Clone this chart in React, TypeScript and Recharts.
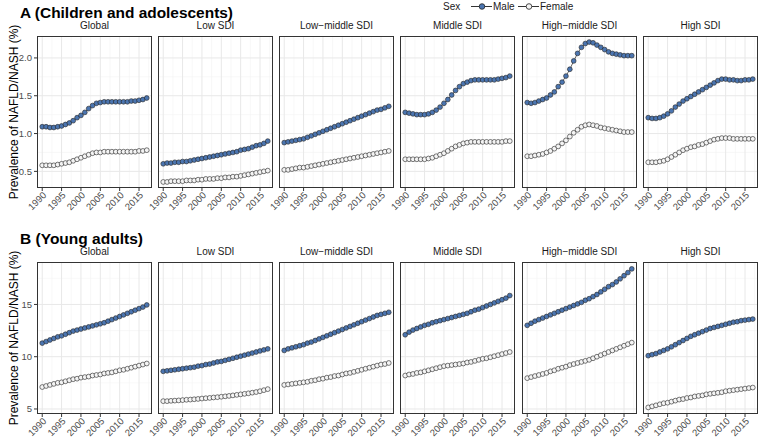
import { LineChart, Line, XAxis, YAxis, ReferenceLine } from 'recharts'

const YEARS = [
  1990, 1991, 1992, 1993, 1994, 1995, 1996, 1997, 1998, 1999, 2000, 2001, 2002, 2003,
  2004, 2005, 2006, 2007, 2008, 2009, 2010, 2011, 2012, 2013, 2014, 2015, 2016, 2017,
]
const REGIONS = ['Global', 'Low SDI', 'Low\u2212middle SDI', 'Middle SDI', 'High\u2212middle SDI', 'High SDI']

const X_TICKS = [1990, 1995, 2000, 2005, 2010, 2015]
const X_MINOR = [1992.5, 1997.5, 2002.5, 2007.5, 2012.5, 2017.5]
const A_TICKS = [0.5, 1.0, 1.5, 2.0]
const A_MINOR = [0.75, 1.25, 1.75, 2.25]
const B_TICKS = [5, 10, 15]
const B_MINOR = [7.5, 12.5, 17.5]

// A: children and adolescents
const aGlobalMale = [1.09, 1.09, 1.08, 1.08, 1.09, 1.1, 1.12, 1.14, 1.17, 1.21, 1.24, 1.28, 1.33, 1.37, 1.4, 1.41, 1.42, 1.42, 1.42, 1.42, 1.42, 1.42, 1.42, 1.43, 1.43, 1.44, 1.45, 1.47]
const aGlobalFemale = [0.58, 0.58, 0.58, 0.58, 0.59, 0.6, 0.61, 0.62, 0.64, 0.66, 0.68, 0.7, 0.72, 0.74, 0.75, 0.75, 0.76, 0.76, 0.76, 0.76, 0.76, 0.76, 0.76, 0.76, 0.76, 0.77, 0.77, 0.78]
const aLowMale = [0.6, 0.61, 0.61, 0.62, 0.62, 0.63, 0.63, 0.64, 0.65, 0.66, 0.67, 0.68, 0.69, 0.7, 0.71, 0.72, 0.73, 0.74, 0.75, 0.76, 0.78, 0.79, 0.8, 0.82, 0.84, 0.85, 0.87, 0.9]
const aLowFemale = [0.36, 0.36, 0.37, 0.37, 0.37, 0.37, 0.38, 0.38, 0.38, 0.39, 0.39, 0.4, 0.4, 0.4, 0.41, 0.41, 0.42, 0.42, 0.43, 0.43, 0.44, 0.45, 0.46, 0.47, 0.48, 0.49, 0.5, 0.51]
const aLowMidMale = [0.88, 0.89, 0.9, 0.91, 0.92, 0.93, 0.95, 0.97, 0.99, 1.01, 1.03, 1.05, 1.07, 1.09, 1.11, 1.13, 1.15, 1.17, 1.19, 1.21, 1.23, 1.25, 1.27, 1.29, 1.31, 1.32, 1.34, 1.36]
const aLowMidFemale = [0.52, 0.52, 0.53, 0.54, 0.55, 0.55, 0.56, 0.57, 0.58, 0.59, 0.6, 0.61, 0.62, 0.63, 0.64, 0.65, 0.66, 0.67, 0.68, 0.69, 0.7, 0.71, 0.72, 0.73, 0.74, 0.75, 0.76, 0.77]
const aMidMale = [1.28, 1.27, 1.26, 1.25, 1.25, 1.25, 1.26, 1.28, 1.31, 1.35, 1.4, 1.45, 1.51, 1.57, 1.62, 1.66, 1.68, 1.7, 1.71, 1.71, 1.71, 1.71, 1.71, 1.71, 1.72, 1.73, 1.74, 1.76]
const aMidFemale = [0.66, 0.66, 0.66, 0.66, 0.66, 0.66, 0.67, 0.68, 0.7, 0.72, 0.74, 0.77, 0.8, 0.83, 0.85, 0.87, 0.88, 0.89, 0.89, 0.89, 0.89, 0.89, 0.89, 0.89, 0.89, 0.89, 0.9, 0.9]
const aHighMidMale = [1.41, 1.4, 1.41, 1.43, 1.45, 1.47, 1.51, 1.55, 1.62, 1.68, 1.76, 1.85, 1.96, 2.06, 2.14, 2.19, 2.21, 2.2, 2.17, 2.14, 2.11, 2.08, 2.06, 2.05, 2.04, 2.03, 2.03, 2.03]
const aHighMidFemale = [0.7, 0.7, 0.71, 0.72, 0.73, 0.75, 0.77, 0.8, 0.83, 0.87, 0.91, 0.96, 1.01, 1.05, 1.09, 1.11, 1.12, 1.11, 1.1, 1.08, 1.07, 1.06, 1.05, 1.04, 1.03, 1.02, 1.02, 1.02]
const aHighMale = [1.21, 1.2, 1.2, 1.21, 1.23, 1.26, 1.3, 1.35, 1.39, 1.43, 1.46, 1.49, 1.52, 1.55, 1.58, 1.61, 1.64, 1.67, 1.7, 1.72, 1.72, 1.71, 1.71, 1.7, 1.7, 1.71, 1.71, 1.72]
const aHighFemale = [0.62, 0.62, 0.62, 0.63, 0.64, 0.66, 0.69, 0.72, 0.75, 0.78, 0.8, 0.82, 0.83, 0.85, 0.86, 0.88, 0.9, 0.92, 0.93, 0.94, 0.94, 0.94, 0.93, 0.93, 0.93, 0.93, 0.93, 0.93]

// B: young adults
const bGlobalMale = [11.3, 11.45, 11.6, 11.75, 11.9, 12.0, 12.15, 12.3, 12.45, 12.55, 12.65, 12.75, 12.85, 12.95, 13.05, 13.15, 13.25, 13.4, 13.55, 13.7, 13.85, 14.0, 14.15, 14.3, 14.45, 14.6, 14.75, 14.95]
const bGlobalFemale = [7.1, 7.2, 7.3, 7.4, 7.5, 7.55, 7.65, 7.75, 7.85, 7.9, 8.0, 8.05, 8.1, 8.2, 8.25, 8.3, 8.4, 8.45, 8.5, 8.6, 8.7, 8.75, 8.85, 8.95, 9.05, 9.15, 9.25, 9.35]
const bLowMale = [8.6, 8.65, 8.7, 8.75, 8.8, 8.85, 8.9, 8.95, 9.0, 9.1, 9.15, 9.25, 9.3, 9.4, 9.5, 9.55, 9.65, 9.75, 9.85, 9.95, 10.05, 10.15, 10.25, 10.35, 10.45, 10.55, 10.65, 10.75]
const bLowFemale = [5.75, 5.75, 5.78, 5.8, 5.82, 5.85, 5.88, 5.9, 5.93, 5.96, 6.0, 6.03, 6.06, 6.1, 6.13, 6.17, 6.21, 6.25, 6.3, 6.35, 6.4, 6.45, 6.5, 6.56, 6.62, 6.7, 6.8, 6.9]
const bLowMidMale = [10.6, 10.75, 10.85, 10.95, 11.05, 11.15, 11.3, 11.4, 11.55, 11.7, 11.85, 12.0, 12.15, 12.3, 12.45, 12.6, 12.75, 12.9, 13.05, 13.2, 13.35, 13.5, 13.65, 13.8, 13.95, 14.05, 14.15, 14.25]
const bLowMidFemale = [7.3, 7.35, 7.4, 7.45, 7.5, 7.55, 7.6, 7.7, 7.75, 7.85, 7.9, 8.0, 8.05, 8.15, 8.2, 8.3, 8.4, 8.45, 8.55, 8.65, 8.75, 8.85, 8.95, 9.05, 9.15, 9.25, 9.3, 9.4]
const bMidMale = [12.1, 12.35, 12.55, 12.7, 12.85, 13.0, 13.1, 13.25, 13.35, 13.45, 13.55, 13.65, 13.75, 13.85, 13.95, 14.05, 14.15, 14.3, 14.45, 14.55, 14.7, 14.85, 15.0, 15.15, 15.3, 15.45, 15.6, 15.85]
const bMidFemale = [8.2, 8.3, 8.35, 8.45, 8.5, 8.6, 8.7, 8.8, 8.9, 9.0, 9.1, 9.15, 9.2, 9.25, 9.3, 9.35, 9.45, 9.5, 9.6, 9.7, 9.8, 9.85, 9.95, 10.05, 10.15, 10.25, 10.35, 10.45]
const bHighMidMale = [13.0, 13.2, 13.4, 13.55, 13.7, 13.85, 14.0, 14.15, 14.3, 14.45, 14.6, 14.75, 14.9, 15.05, 15.2, 15.4, 15.55, 15.75, 15.95, 16.2, 16.45, 16.7, 16.9, 17.15, 17.45, 17.75, 18.05, 18.4]
const bHighMidFemale = [7.95, 8.05, 8.15, 8.25, 8.35, 8.45, 8.6, 8.7, 8.85, 8.95, 9.05, 9.2, 9.3, 9.4, 9.5, 9.6, 9.7, 9.85, 10.0, 10.15, 10.3, 10.45, 10.6, 10.75, 10.9, 11.05, 11.2, 11.35]
const bHighMale = [10.1, 10.2, 10.3, 10.45, 10.6, 10.75, 10.95, 11.15, 11.35, 11.55, 11.75, 11.95, 12.1, 12.25, 12.4, 12.55, 12.7, 12.8, 12.9, 13.0, 13.1, 13.2, 13.3, 13.35, 13.45, 13.5, 13.55, 13.6]
const bHighFemale = [5.15, 5.25, 5.35, 5.45, 5.55, 5.6, 5.7, 5.8, 5.9, 5.95, 6.05, 6.1, 6.2, 6.25, 6.3, 6.4, 6.45, 6.5, 6.55, 6.6, 6.7, 6.75, 6.8, 6.85, 6.9, 6.95, 7.0, 7.05]

const A_MALE = [aGlobalMale, aLowMale, aLowMidMale, aMidMale, aHighMidMale, aHighMale]
const A_FEMALE = [aGlobalFemale, aLowFemale, aLowMidFemale, aMidFemale, aHighMidFemale, aHighFemale]
const B_MALE = [bGlobalMale, bLowMale, bLowMidMale, bMidMale, bHighMidMale, bHighMale]
const B_FEMALE = [bGlobalFemale, bLowFemale, bLowMidFemale, bMidFemale, bHighMidFemale, bHighFemale]

const MALE_FILL = '#4b75b0'
const FEMALE_FILL = '#f4f4f4'
const FONT = '"Liberation Sans", Arial, Helvetica, sans-serif'
const PW = 115
const PH = 152
const XAXIS_H = 30
const PAD = 20 // room on the left for the rotated 1990 label
const X_DOMAIN = [1988.65, 2018.35]
const PANEL_LEFT = [37, 158, 279, 400, 522, 643]

function Panel({ male, female, first, left, top, yDomain, yTicks, yMinor, yFormat, label }: any) {
  const yw = first ? 30 : 0
  const pad = first ? 0 : PAD
  const data = YEARS.map((year, i) => ({ year, male: male[i], female: female[i] }))
  const tickStyle = { fontSize: 9.5, fill: '#4d4d4d', fontFamily: FONT }
  return (
    <>
      <div
        style={{
          position: 'absolute', left, top: top - 16, width: PW, textAlign: 'center',
          fontSize: 10, color: '#1a1a1a', fontFamily: FONT,
        }}
      >
        {label}
      </div>
      <div style={{ position: 'absolute', left: left - yw - pad, top }}>
        <LineChart
          width={PW + yw + pad} height={PH + XAXIS_H} data={data}
          margin={{ top: 0, right: 0, bottom: 0, left: pad }}
        >
          <XAxis
            dataKey="year" type="number" domain={X_DOMAIN} ticks={X_TICKS} interval={0}
            allowDataOverflow height={XAXIS_H} axisLine={false} tickSize={3} tickMargin={0}
            tickLine={{ stroke: '#333' }} angle={-45} tick={{ ...tickStyle, textAnchor: 'end' }}
          />
          <YAxis
            type="number" domain={yDomain} ticks={yTicks} interval={0} allowDataOverflow
            hide={!first} width={yw} axisLine={false} tickSize={3} tickMargin={2}
            tickLine={{ stroke: '#333' }} tick={tickStyle} tickFormatter={yFormat}
          />
          {X_MINOR.map(v => <ReferenceLine key={'xm' + v} x={v} stroke="#f3f3f3" strokeWidth={0.6} />)}
          {yMinor.map((v: number) => <ReferenceLine key={'ym' + v} y={v} stroke="#f3f3f3" strokeWidth={0.6} />)}
          {X_TICKS.map(v => <ReferenceLine key={'x' + v} x={v} stroke="#e8e8e8" strokeWidth={1} />)}
          {yTicks.map((v: number) => <ReferenceLine key={'y' + v} y={v} stroke="#e8e8e8" strokeWidth={1} />)}
          <Line
            dataKey="female" stroke="#000" strokeWidth={0.6} isAnimationActive={false} activeDot={false}
            dot={{ r: 2.4, fill: FEMALE_FILL, stroke: '#222', strokeWidth: 0.6 }}
          />
          <Line
            dataKey="male" stroke="#000" strokeWidth={0.6} isAnimationActive={false} activeDot={false}
            dot={{ r: 2.4, fill: MALE_FILL, stroke: '#222', strokeWidth: 0.6 }}
          />
        </LineChart>
      </div>
      <div
        style={{
          position: 'absolute', left, top, width: PW, height: PH,
          border: '1px solid #333', boxSizing: 'border-box', pointerEvents: 'none',
        }}
      />
    </>
  )
}

function Row({ title, titleWidth, titleTop, top, males, females, yDomain, yTicks, yMinor, yFormat }: any) {
  return (
    <>
      <svg style={{ position: 'absolute', left: 20, top: titleTop }} width={titleWidth + 4} height={20}>
        <text
          x={0} y={15} fontSize={15} fontWeight={700} fontFamily={FONT} fill="#000"
          textLength={titleWidth} lengthAdjust="spacingAndGlyphs"
        >
          {title}
        </text>
      </svg>
      <div
        style={{
          position: 'absolute', left: 14, top: top + PH / 2, transform: 'translate(-50%, -50%) rotate(-90deg)',
          whiteSpace: 'nowrap', fontSize: 12, fontFamily: FONT, color: '#000',
        }}
      >
        Prevalence of NAFLD/NASH (%)
      </div>
      {REGIONS.map((r, i) => (
        <Panel
          key={r} label={r} male={males[i]} female={females[i]} first={i === 0}
          left={PANEL_LEFT[i]} top={top} yDomain={yDomain} yTicks={yTicks} yMinor={yMinor} yFormat={yFormat}
        />
      ))}
    </>
  )
}

function Legend() {
  return (
    <div style={{ position: 'absolute', left: 440, top: 0 }}>
      <svg width={150} height={14} style={{ fontFamily: FONT, fontSize: 10 }}>
        <text x={3} y={10} fill="#1a1a1a">Sex</text>
        <line x1={31} x2={52} y1={6.5} y2={6.5} stroke="#000" strokeWidth={0.8} />
        <circle cx={42} cy={6.5} r={2.8} fill={MALE_FILL} stroke="#222" strokeWidth={0.8} />
        <text x={53} y={10} fill="#1a1a1a">Male</text>
        <line x1={78} x2={99} y1={6.5} y2={6.5} stroke="#000" strokeWidth={0.8} />
        <circle cx={89} cy={6.5} r={2.8} fill={FEMALE_FILL} stroke="#222" strokeWidth={0.8} />
        <text x={100} y={10} fill="#1a1a1a">Female</text>
      </svg>
    </div>
  )
}

export default function App() {
  return (
    <div style={{ position: 'absolute', left: 0, top: 0, width: 761, height: 441, background: '#fff', overflow: 'hidden' }}>
      <Legend />
      <Row
        title="A (Children and adolescents)" titleWidth={213} titleTop={3} top={36} males={A_MALE} females={A_FEMALE}
        yDomain={[0.28, 2.29]} yTicks={A_TICKS} yMinor={A_MINOR} yFormat={(v: number) => v.toFixed(1)}
      />
      <Row
        title="B (Young adults)" titleWidth={123} titleTop={229} top={262} males={B_MALE} females={B_FEMALE}
        yDomain={[4.52, 19.06]} yTicks={B_TICKS} yMinor={B_MINOR} yFormat={(v: number) => String(v)}
      />
    </div>
  )
}
